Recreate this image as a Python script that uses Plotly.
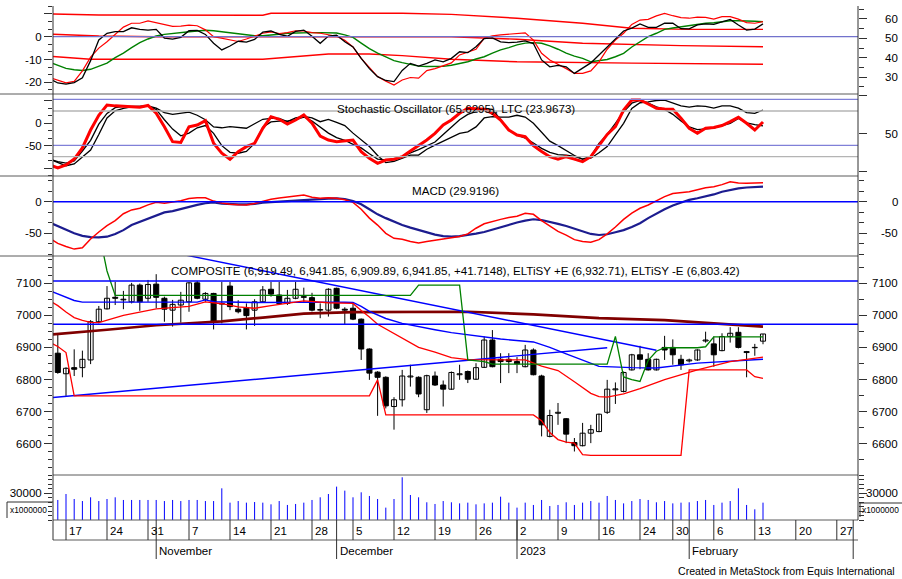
import pandas as pd
import plotly.graph_objects as go

# ======================= DATA =======================
# trading calendar (2023-01-23 closed); index 0 = 2022-10-13
calendar = [d for d in pd.bdate_range("2022-10-13", "2023-03-03") if d != pd.Timestamp("2023-01-23")]
cal_index = {d.strftime("%Y-%m-%d"): k for k, d in enumerate(calendar)}

price_start = "2022-10-14"      # first candle
ind_start = "2022-10-13"        # indicator series start one session earlier

open_ = [6882, 6818, 6837, 6837, 6861, 6980, 7020, 7056, 7048, 7042,
         7094, 7053, 7097, 7053, 7016, 7032, 7042, 7101, 7050, 7068,
         7035, 7091, 7019, 7022, 7016, 7042, 7081, 7063, 7037, 7053,
         7058, 7055, 7016, 7016, 7084, 7019, 7022, 6988, 6895, 6823,
         6807, 6716, 6737, 6808, 6807, 6706, 6811, 6783, 6770, 6815,
         6825, 6801, 6838, 6923, 6863, 6863, 6856, 6840, 6892, 6811,
         6623, 6695, 6678, 6604, 6594, 6633, 6638, 6698, 6768, 6763,
         6830, 6877, 6863, 6830, 6900, 6900, 6863, 6858, 6861, 6920,
         6911, 6890, 6934, 6947, 6887, 6899, 6919.49]
high_ = [6939, 6838, 6894, 6890, 6985, 7029, 7091, 7104, 7076, 7101,
         7099, 7110, 7128, 7058, 7048, 7073, 7103, 7107, 7072, 7070,
         7104, 7104, 7047, 7037, 7050, 7091, 7104, 7104, 7079, 7104,
         7086, 7070, 7037, 7084, 7086, 7025, 7037, 6990, 6897, 6826,
         6810, 6745, 6830, 6846, 6810, 6815, 6825, 6797, 6825, 6846,
         6828, 6851, 6934, 6954, 6882, 6882, 6870, 6908, 6897, 6815,
         6706, 6727, 6680, 6618, 6665, 6659, 6694, 6799, 6791, 6825,
         6880, 6905, 6882, 6865, 6936, 6925, 6877, 6865, 6894, 6949,
         6934, 6944, 6963, 6963, 6889, 6911, 6941.85]
low_ = [6818, 6749, 6811, 6807, 6848, 6975, 7018, 7032, 7019, 7037,
        7014, 7042, 7022, 6980, 6965, 6977, 7011, 7050, 7042, 6956,
        6975, 7016, 7006, 6956, 6967, 7040, 7058, 7032, 7032, 7050,
        7042, 7012, 6991, 6996, 7019, 6970, 6985, 6861, 6799, 6687,
        6710, 6644, 6716, 6778, 6745, 6696, 6780, 6716, 6768, 6799,
        6789, 6799, 6836, 6838, 6789, 6820, 6820, 6838, 6813, 6623,
        6620, 6659, 6602, 6576, 6592, 6602, 6636, 6693, 6724, 6760,
        6828, 6832, 6828, 6828, 6861, 6846, 6830, 6853, 6858, 6915,
        6840, 6888, 6915, 6897, 6807, 6874, 6909.89]
close_ = [6822, 6835, 6832, 6863, 6980, 7019, 7053, 7053, 7050, 7094,
          7042, 7096, 7056, 7019, 7034, 7047, 7101, 7053, 7068, 6980,
          7037, 7027, 7011, 6999, 7042, 7079, 7066, 7037, 7053, 7081,
          7056, 7016, 7018, 7081, 7022, 7016, 6988, 6895, 6820, 6807,
          6718, 6737, 6811, 6811, 6755, 6812, 6783, 6770, 6822, 6818,
          6801, 6837, 6923, 6840, 6856, 6856, 6849, 6892, 6815, 6659,
          6688, 6698, 6630, 6594, 6633, 6644, 6692, 6770, 6771, 6822,
          6877, 6863, 6830, 6863, 6892, 6877, 6846, 6861, 6892, 6923,
          6877, 6934, 6944, 6900, 6884, 6900.14, 6941.85]
volume = [22500, 29200, 23600, 21300, 25500, 21300, 23600, 25500, 22500, 22500,
          22500, 22500, 22500, 21300, 22500, 21300, 22500, 22500, 21300, 21300,
          35600, 19500, 21300, 19500, 20200, 19500, 17600, 21300, 16900, 18000,
          19500, 22500, 25500, 29200, 37500, 33000, 25500, 31100, 27000, 23600,
          13900, 23600, 48000, 28100, 25500, 19900, 18000, 21300, 19900, 18700,
          19500, 17600, 18700, 19500, 26200, 19500, 13900, 19500, 16900, 22500,
          15700, 16900, 19900, 16900, 19500, 21300, 19500, 27000, 22500, 18700,
          21300, 23600, 22500, 19900, 21300, 18700, 19500, 19900, 21300, 22500,
          16900, 19500, 21300, 35600, 16900, 12000, 19500]

# ELTiSY +E / -E (from ind_start)
elt_plus = [None, None, None, None, None, None, 7262, 7138, 7062, 7062,
            7062, 7062, 7062, 7062, 7062, 7062, 7062, 7062, 7062, 7062,
            7062, 7062, 7062, 7062, 7062, 7062, 7062, 7062, 7062, 7062,
            7062, 7062, 7062, 7062, 7062, 7062, 7062, 7062, 7062, 7062,
            7062, 7062, 7062, 7062, 7062, 7094, 7094, 7094, 7094, 7094,
            7094, 6861, 6859, 6856, 6848, 6848, 6848, 6848, 6848, 6848,
            6848, 6848, 6848, 6848, 6848, 6848, 6848, 6848, 6848, 6934,
            6808, 6800, 6794, 6860, 6888, 6899, 6899, 6899, 6899, 6899,
            6902, 6932.71, 6932.71, 6932.71, 6932.71, 6932.71, 6932.71, 6932.71]
elt_minus = [6916, 6903, 6884, 6749, 6749, 6749, 6749, 6749, 6749, 6749,
             6749, 6749, 6749, 6749, 6749, 6749, 6749, 6749, 6749, 6749,
             6749, 6749, 6749, 6749, 6749, 6749, 6749, 6749, 6749, 6749,
             6749, 6749, 6749, 6749, 6749, 6749, 6749, 6749, 6749, 6749,
             6799, 6690, 6690, 6690, 6690, 6690, 6690, 6690, 6690, 6690,
             6690, 6690, 6690, 6690, 6690, 6690, 6690, 6690, 6690, 6690,
             6672, 6635, 6613, 6605, 6602, 6566, 6564, 6564, 6564, 6564,
             6564, 6564, 6564, 6564, 6564, 6564, 6564, 6564, 6830, 6830,
             6830, 6830, 6830, 6830, 6830, 6830, 6809, 6803.42]

# moving averages / curves in price panel: (session offset from price_start, value)
brown_i = [-1, 0, 6, 12, 20, 25, 30, 36, 42, 50, 58, 66, 74, 80, 86]
brown_v = [6940, 6942, 6955, 6969, 6981, 6993, 7005, 7010, 7011, 7011, 7003, 6991, 6985, 6974, 6965]
ma_red_i = [-1, 0, 1, 2, 3, 4, 5, 6, 8, 12, 16, 18, 20, 22, 24, 26, 28, 30, 33, 36,
            37, 38, 39, 41, 44, 46, 48, 50, 53, 57, 59, 61, 63, 65, 66, 67, 69, 71, 74, 78, 82, 86]
ma_red_v = [7045, 7030, 7010, 6993, 6984, 6978, 6977, 6985, 7000, 7020, 7028, 7042, 7036, 7026, 7022, 7030, 7038, 7045, 7039, 7037,
            7015, 6995, 6972, 6944, 6900, 6885, 6868, 6862, 6861, 6861, 6842, 6828, 6793, 6757, 6747, 6745, 6755, 6772, 6800, 6830, 6856, 6870]
blue_curve_i = [-1, 0, 1, 2, 3, 17, 18, 19, 24, 29, 35, 36, 37, 38, 40, 42, 44, 46, 48, 50,
                54, 58, 60, 62, 64, 66, 70, 73, 78, 86]
blue_curve_v = [7077, 7067, 7057, 7046, 7041, 7041, 7048, 7042, 7040, 7041, 7041, 7040, 7028, 7012, 6990, 6975, 6964, 6955, 6946, 6939,
                6926, 6917, 6900, 6880, 6860, 6841, 6837, 6836, 6851, 6863]
trend_down_i = [12, 73]
trend_down_v = [7206, 6891]
trend_up_i = [-1, 67]
trend_up_v = [6743, 6899]
price_levels = [7107, 6972]

# top oscillator panel (from ind_start)
osc_black = [-18.5, -20.3, -20.8, -20.1, -18.0, -10.5, -1.4, 1.5, 2.2, 2.2,
             3.9, 3.2, 2.9, 3.2, -0.6, -1.1, -0.3, 2.6, 2.8, 1.0,
             -2.9, -5.8, -4.1, -2.0, -2.4, -1.2, 2.0, 2.5, 1.0, 0.2,
             2.3, 2.9, 0.2, -2.9, 0.3, 0.7, -2.2, -4.5, -9.5, -14.0,
             -17.5, -19.2, -19.7, -14.8, -11.7, -12.9, -11.7, -10.2, -11.0, -9.5,
             -6.6, -7.0, -4.4, -0.8, -0.5, -2.3, -2.6, -2.4, -1.8, -3.0,
             -10.2, -13.2, -12.6, -13.2, -16.1, -13.9, -11.5, -8.0, -4.4, -0.7,
             2.5, 3.8, 5.6, 4.1, 4.1, 5.9, 5.9, 3.5, 3.4, 5.2,
             5.6, 5.4, 6.6, 7.6, 5.1, 2.9, 3.3, 5.6]
osc_red = [-17.9, -19.0, -20.2, -19.6, -15.0, -9.0, -5.0, -2.2, 1.2, 4.2,
           5.9, 5.9, 6.9, 6.2, 5.3, 4.5, 4.6, 5.1, 4.8, 3.0,
           0.0, -0.6, -1.3, -2.1, -1.0, 0.2, 1.5, 2.1, 1.4, 1.8,
           2.6, 2.5, 1.8, 1.5, 1.0, 0.2, -1.6, -4.5, -9.5, -13.5,
           -17.5, -19.5, -21.2, -19.0, -17.9, -18.2, -14.9, -14.0, -12.9, -11.5,
           -8.0, -6.6, -5.5, -0.6, 0.4, 0.8, 1.2, 1.3, 1.7, -1.5,
           -7.3, -10.2, -12.0, -14.0, -16.1, -16.1, -15.0, -11.0, -5.5, -1.5,
           1.5, 5.4, 7.3, 7.6, 9.1, 10.2, 9.2, 8.4, 8.1, 8.6,
           8.5, 7.7, 8.8, 8.8, 7.7, 6.2, 5.9, 6.6]
osc_green = [-11.2, -12.5, -13.9, -14.5, -14.8, -14.3, -13.1, -11.6, -9.2, -7.2,
             -4.8, -2.6, -1.0, 0.3, 1.0, 1.5, 1.9, 2.2, 2.5, 2.8,
             2.6, 2.1, 1.6, 1.1, 0.7, 0.4, 0.4, 0.6, 1.1, 1.5,
             1.7, 1.8, 1.8, 1.8, 1.8, 1.6, 0.8, -0.3, -2.8, -5.2,
             -7.2, -9.0, -10.5, -11.4, -12.2, -12.9, -13.1, -13.2, -13.0, -12.5,
             -11.9, -11.0, -9.8, -8.8, -7.2, -5.8, -4.8, -3.6, -2.8, -2.6,
             -2.9, -4.0, -5.5, -7.2, -8.5, -9.5, -11.0, -10.6, -10.0, -8.8,
             -7.3, -4.5, -2.2, 0.0, 1.5, 3.2, 3.8, 4.4, 5.0, 5.6,
             5.9, 6.1, 6.5, 7.0, 7.0, 7.0, 6.8, 6.6]
band_up_i = [-1, 5, 25, 26, 42, 48, 56, 64, 70, 77, 86]
band_up_v = [10.0, 9.5, 9.4, 10.3, 10.3, 9.8, 8.1, 5.9, 3.7, 3.2, 3.2]
band_mid_i = [-1, 5, 12, 48, 56, 64, 76, 86]
band_mid_v = [1.1, 0.3, 0.0, 0.0, -1.1, -2.9, -3.9, -4.4]
band_lo_i = [-1, 4, 25, 30, 33, 38, 42, 48, 56, 70, 86]
band_lo_v = [-8.6, -9.9, -9.9, -8.5, -7.6, -7.6, -8.3, -9.9, -11.0, -11.6, -12.1]

# stochastic panel (from ind_start)
stoch_k = [-93, -100, -93, -80, -55, -15, 18, 41, 39, 38.7,
           37, 36, 40, 22.4, -7.6, -41, -43, -7.6, -3.8, 5.8,
           -44.7, -67, -80.5, -63.5, -52.3, -44.7, -11.2, 14.8, 8.9, -1.6,
           7.4, 18.6, 0, -28.4, -37.4, -41.2, -40, -37.4, -63.5, -78.3,
           -89.5, -82.1, -80.5, -74.7, -62, -50, -37.4, -22.4, -3.8, 7.4,
           22.4, 33.6, 32.5, 31.3, 22.4, 7.4, -15, -26.2, -30, -50,
           -63, -74.7, -80.5, -74.7, -80, -85.9, -74.7, -50, -25, -7.6,
           29.8, 52.1, 52.1, 43.2, 33.6, 32, 31.3, 11.2, -11.2, -22.4,
           -11.2, -9.4, -5, 3.6, 13.4, 0, -15, 3.0]
stoch_a = [-80, -86, -89, -84, -62, -38, -2, 22, 35, 38,
           38, 37, 38.7, 31, 8, -13, -28, -22, -10, -5,
           -22.4, -50, -65, -67, -63, -45, -9, 3, 5, 5,
           8, 14, 5, -8, -22, -32, -38, -47, -55, -68,
           -80, -82, -81, -75, -66, -59, -50, -42, -25, -8,
           8, 20, 26, 33, 31, 8, -15, -26, -33, -44,
           -56, -65, -70, -71, -74, -80, -74, -45, -25, 0,
           26, 45, 51, 45, 37, 31, 20, 5, -8, -14,
           -13, -11, -5, 0, 11, 1, -3, -6]
stoch_b = [-80, -88, -95, -91, -75, -60, -25, 12, 28, 33.6,
           37, 38, 38.7, 34, 24, 20, 22, 25, 18, 8,
           -8, -10, -7.6, -9, -11, -1, 9, 11, 11, 4,
           12, 15.5, 12, 3.6, 8.9, 2, -5, -22, -36, -52,
           -72, -88, -85, -78, -71, -71, -58, -49, -40, -30,
           -22.4, -19, -8, 12, 15, 14, 14, 18, 14, 0,
           -20, -40, -50, -62, -72, -80, -78, -66, -52, -26,
           0, 33, 46, 48, 51, 52, 45, 39, 36, 39,
           38, 34, 39, 39, 34, 24, 22.4, 29.8]
stoch_blue_levels = [53.7, -49.2]
stoch_gray_levels = [27.5, -74.7]

# MACD panel (from ind_start)
macd_line = [-58, -66, -71, -75, -73, -59, -48, -38, -30, -19,
             -13, -10.4, -5, -1, -2.5, -1, 1.5, 5, 6.3, 6.3,
             1, -2, -4, -4.8, -5.2, -3, 1, 4, 6, 7.5,
             9.5, 10.6, 7, 5.5, 6.3, 5.5, 3, -1, -12, -26,
             -37, -50, -58, -59.5, -63, -65.5, -63, -61, -60, -58,
             -55, -51, -42, -35, -31, -28, -25, -23, -18.4, -20,
             -30, -38, -47, -53, -60, -63, -64, -60, -51, -40,
             -28, -18, -10.4, -5.2, 2, 8, 13, 14.5, 15.8, 19,
             22, 23.7, 27, 31.6, 29.5, 29, 29, 29.9]
macd_signal = [-33, -39, -44, -50, -54, -56, -56.3, -55.4, -51, -45,
               -37, -32, -26, -21, -17, -15, -11.5, -8, -5, -2.5,
               -1, -3, -4.1, -4.1, -4.1, -3.5, -1.5, -0.5, 0, 0.7,
               1.5, 2.4, 3.2, 4.3, 5, 5.2, 4.3, 1, -4, -12,
               -20, -26, -32, -37, -41, -45, -48.4, -52, -54.5, -55.4,
               -54.5, -53, -50.5, -48, -44, -40, -36.5, -33, -30, -27.8,
               -29, -31.6, -35, -38.5, -42.5, -47, -51, -52.7, -51.5, -48.4,
               -45, -40, -34, -26, -18.4, -12, -6, -1, 3, 5.4,
               8, 11.5, 15.8, 19, 21, 22.5, 23.2, 23.7]

# axis tick labels
p1_left_ticks, p1_left_text = [-20, -10, 0, 10], ["-20", "-10", "0", ""]
p1_right_ticks, p1_right_text = [30, 40, 50, 60], ["30", "40", "50", "60"]
p2_left_ticks, p2_left_text = [-100, -50, 0, 50], ["", "-50", "0", ""]
p2_right_ticks, p2_right_text = [0, 50, 100], ["", "50", ""]
p3_ticks, p3_text = [-50, 0], ["-50", "0"]
p4_ticks = [6600, 6700, 6800, 6900, 7000, 7100]
p4_text = ["6600", "6700", "6800", "6900", "7000", "7100"]
p5_ticks, p5_text = [30000], ["30000"]

week_tick_dates = ["2022-10-17", "2022-10-24", "2022-10-31", "2022-11-07", "2022-11-14", "2022-11-21",
                   "2022-11-28", "2022-12-05", "2022-12-12", "2022-12-19", "2022-12-26", "2023-01-02",
                   "2023-01-09", "2023-01-16", "2023-01-24", "2023-01-30", "2023-02-06", "2023-02-13",
                   "2023-02-20", "2023-02-27"]
week_tick_labels = ["17", "24", "31", "7", "14", "21", "28", "5", "12", "19", "26", "2",
                    "9", "16", "24", "30", "6", "13", "20", "27"]
month_tick_dates = ["2022-11-01", "2022-12-01", "2023-01-02", "2023-02-01", "2023-03-01"]
month_tick_labels = ["November", "December", "2023", "February", ""]

title_stoch = "Stochastic Oscillator (65.6295), LTC (23.9673)"
title_macd = "MACD (29.9196)"
title_price = ("COMPOSITE (6,919.49, 6,941.85, 6,909.89, 6,941.85, +41.7148), "
               "ELTiSY +E (6,932.71), ELTiSY -E (6,803.42)")
footer = "Created in MetaStock from Equis International"
vol_unit = "x1000000"

# ======================= LAYOUT CONSTANTS =======================
W, H = 902, 579
PX_L, PX_R = 53, 858
X_RANGE = [(PX_L - 49.6) / 8.2, (PX_R - 49.6) / 8.2]
PAN = {1: (6, 94), 2: (94, 176), 3: (176, 256), 4: (256, 475), 5: (475, 520)}
R1L = [-25.13, 13.46]
R1R = [21.36, 66.6]
R2L = [-117.9, 65.55]
R2R = [-5.3, 102.3]
R3 = [-85.92, 40.66]
R4 = [6502.8, 7184.6]
R5 = [0, 50562]

FONT = dict(family="Liberation Sans, Arial, sans-serif", size=11.5, color="#000000")
AXC = "#303030"
SEPC = "#5a5a5a"


def px_x(px):
    return px / W


def px_y(py):
    return 1 - py / H


def ydom(p):
    t, b = PAN[p]
    return [px_y(b), px_y(t)]


k_price0 = cal_index[price_start]
k_ind0 = cal_index[ind_start]
xb = [k_price0 + i for i in range(len(close_))]
xi = [k_ind0 + j for j in range(len(osc_black))]


def kx(offsets):
    return [k_price0 + i for i in offsets]


traces = []


def line(xs, ys, yaxis, color, width):
    traces.append(go.Scatter(x=xs, y=ys, mode="lines", xaxis="x", yaxis=yaxis,
                             line=dict(color=color, width=width), hoverinfo="skip",
                             showlegend=False, connectgaps=False))


# ---- panel 1 ----
line(kx(band_up_i), band_up_v, "y", "#ff0000", 1.4)
line(kx(band_mid_i), band_mid_v, "y", "#ff0000", 1.4)
line(kx(band_lo_i), band_lo_v, "y", "#ff0000", 1.4)
line(xi, osc_green, "y", "#008000", 1.4)
line(xi, osc_red, "y", "#ff0000", 1.2)
line(xi, osc_black, "y", "#000000", 1.3)

# ---- panel 2 ----
line(xi, stoch_b, "y2", "#000000", 1.3)
line(xi, stoch_a, "y2", "#000000", 1.3)
line(xi, stoch_k, "y2", "#ff0000", 3.0)

# ---- panel 3 ----
line(xi, macd_signal, "y3", "#1c1c8f", 2.2)
line(xi, macd_line, "y3", "#ff0000", 1.5)

# ---- panel 4: candles ----
wx, wy = [], []
for k, h, l in zip(xb, high_, low_):
    wx += [k, k, None]
    wy += [l, h, None]
traces.append(go.Scatter(x=wx, y=wy, mode="lines", xaxis="x", yaxis="y4",
                         line=dict(color="#000000", width=1), hoverinfo="skip", showlegend=False))
for up in (True, False):
    bx, bbase, bh = [], [], []
    for k, o, c in zip(xb, open_, close_):
        if (c >= o) == up:
            bx.append(k)
            bbase.append(min(o, c))
            bh.append(max(abs(c - o), 0.8))
    traces.append(go.Bar(x=bx, y=bh, base=bbase, width=0.62, xaxis="x", yaxis="y4",
                         marker=dict(color="#ffffff" if up else "#000000",
                                     line=dict(color="#000000", width=1)),
                         hoverinfo="skip", showlegend=False))

line(kx(brown_i), brown_v, "y4", "#800000", 2.7)
line(kx(trend_up_i), trend_up_v, "y4", "#0000ff", 1.4)
line(kx(trend_down_i), trend_down_v, "y4", "#0000ff", 1.4)
line(kx(blue_curve_i), blue_curve_v, "y4", "#0000ff", 1.4)
line(kx(ma_red_i), ma_red_v, "y4", "#ff0000", 1.3)
line(xi, elt_minus, "y4", "#ff0000", 1.3)
line(xi, elt_plus, "y4", "#008000", 1.3)

# ---- panel 5: volume ----
vx, vy = [], []
for k, v in zip(xb, volume):
    vx += [k, k, None]
    vy += [0, v, None]
traces.append(go.Scatter(x=vx, y=vy, mode="lines", xaxis="x", yaxis="y5",
                         line=dict(color="#0000ff", width=1), hoverinfo="skip", showlegend=False))

# dummy traces so the right-hand axes exist
for ax, rng in (("y6", R1R), ("y7", R2R), ("y8", R3), ("y9", R4), ("y10", R5)):
    traces.append(go.Scatter(x=[-5], y=[sum(rng) / 2], mode="markers", xaxis="x", yaxis=ax,
                             marker=dict(opacity=0), hoverinfo="skip", showlegend=False))

fig = go.Figure(traces)


def left_axis(p, rng, tv, tt, minor_tick0, minor_dtick):
    d = dict(domain=ydom(p), range=rng, anchor="x", side="left", tickmode="array",
             tickvals=tv, ticktext=tt, ticks="outside", ticklen=8, tickwidth=1, tickcolor=AXC,
             tickfont=FONT, showgrid=False, zeroline=False, showline=False, fixedrange=True)
    if minor_dtick:
        d["minor"] = dict(ticks="outside", ticklen=4, tickwidth=1, tickcolor=AXC,
                          tickmode="linear", tick0=minor_tick0, dtick=minor_dtick, showgrid=False)
    return d


def right_axis(over, rng, tv, minor_tick0, minor_dtick):
    d = dict(overlaying=over, range=rng, anchor="x", side="right", tickmode="array",
             tickvals=tv, showticklabels=False, ticks="outside", ticklen=8, tickwidth=1,
             tickcolor=AXC, showgrid=False, zeroline=False, showline=False, fixedrange=True)
    if minor_dtick:
        d["minor"] = dict(ticks="outside", ticklen=5, tickwidth=1, tickcolor=AXC,
                          tickmode="linear", tick0=minor_tick0, dtick=minor_dtick, showgrid=False)
    return d


shapes = []


def seg(x0, y0, x1, y1, color=SEPC, width=1, xref="paper", yref="paper"):
    shapes.append(dict(type="line", x0=x0, y0=y0, x1=x1, y1=y1, xref=xref, yref=yref,
                       line=dict(color=color, width=width), layer="above"))


# panel horizontal reference lines
seg(px_x(PX_L), 0, px_x(PX_R), 0, "#7272cc", 1.3, yref="y")
for v in stoch_blue_levels:
    seg(px_x(PX_L), v, px_x(PX_R), v, "#8080d8", 1.3, yref="y2")
for v in stoch_gray_levels:
    seg(px_x(PX_L), v, px_x(PX_R), v, "#b4b4b4", 1.3, yref="y2")
seg(px_x(PX_L), 0, px_x(PX_R), 0, "#0000ff", 1.5, yref="y3")
for v in price_levels:
    seg(px_x(PX_L), v, px_x(PX_R), v, "#0000ff", 1.4, yref="y4")

# frame / separators
for py in (94, 176, 256):
    seg(0, px_y(py), px_x(PX_R), px_y(py))
for py in (475, 520, 540):
    seg(px_x(PX_L), px_y(py), px_x(PX_R), px_y(py))
seg(px_x(PX_L), px_y(6), px_x(PX_L), px_y(540), AXC)
seg(px_x(PX_R), px_y(6), px_x(PX_R), px_y(520), AXC)

annotations = []

# date ticks
for d, lab in zip(week_tick_dates, week_tick_labels):
    k = cal_index[d]
    seg(k, px_y(520), k, px_y(540), AXC, 1, xref="x")
    annotations.append(dict(x=k, xref="x", xanchor="left", xshift=1, y=px_y(531), yref="paper",
                            yanchor="middle", text=lab, showarrow=False, font=FONT))
for d, lab in zip(month_tick_dates, month_tick_labels):
    k = cal_index[d]
    seg(k, px_y(520), k, px_y(559), AXC, 1, xref="x")
    if lab:
        annotations.append(dict(x=k, xref="x", xanchor="left", xshift=1, y=px_y(551), yref="paper",
                                yanchor="middle", text=lab, showarrow=False, font=FONT))

# right axis labels
for ax, tv, tt in (("y6", p1_right_ticks, p1_right_text), ("y7", p2_right_ticks, p2_right_text),
                   ("y8", p3_ticks, p3_text), ("y9", p4_ticks, p4_text), ("y10", p5_ticks, p5_text)):
    for v, t in zip(tv, tt):
        if t:
            annotations.append(dict(x=px_x(900), xref="paper", xanchor="right", y=v, yref=ax,
                                    yanchor="middle", text=t, showarrow=False, font=FONT))

# titles
for txt, py in ((title_stoch, 108), (title_macd, 190), (title_price, 270)):
    annotations.append(dict(x=px_x((PX_L + PX_R) / 2), xref="paper", xanchor="center",
                            y=px_y(py), yref="paper", yanchor="middle", text=txt,
                            showarrow=False, font=dict(FONT, size=11.6)))
annotations.append(dict(x=px_x(897), xref="paper", xanchor="right", y=px_y(571), yref="paper",
                        yanchor="middle", text=footer, showarrow=False, font=dict(FONT, size=10.6)))

# volume unit boxes
annotations.append(dict(x=px_x(28), xref="paper", xanchor="center", y=px_y(510.5), yref="paper",
                        yanchor="middle", text=vol_unit, showarrow=False, font=dict(FONT, size=8.4)))
annotations.append(dict(x=px_x(880.5), xref="paper", xanchor="center", y=px_y(510), yref="paper",
                        yanchor="middle", text=vol_unit, showarrow=False, font=dict(FONT, size=8.4)))
seg(px_x(7), px_y(502), px_x(PX_L), px_y(502), AXC)
seg(px_x(7), px_y(502), px_x(7), px_y(518), AXC)
seg(px_x(859), px_y(503), px_x(902), px_y(503), AXC)
seg(px_x(860), px_y(503), px_x(860), px_y(517), AXC)

fig.update_layout(
    width=W, height=H, margin=dict(l=0, r=0, t=0, b=0),
    paper_bgcolor="#ffffff", plot_bgcolor="#ffffff", showlegend=False, barmode="overlay",
    xaxis=dict(domain=[px_x(PX_L), px_x(PX_R)], range=X_RANGE, anchor="y5", showgrid=False,
               zeroline=False, showticklabels=False, ticks="", showline=False, fixedrange=True),
    yaxis=left_axis(1, R1L, p1_left_ticks, p1_left_text, 0, 10 / 3),
    yaxis2=left_axis(2, R2L, p2_left_ticks, p2_left_text, 0, 50 / 3),
    yaxis3=left_axis(3, R3, p3_ticks, p3_text, 0, 50 / 3),
    yaxis4=left_axis(4, R4, p4_ticks, p4_text, 7000, 25),
    yaxis5=left_axis(5, R5, p5_ticks, p5_text, 0, 5000),
    yaxis6=right_axis("y", R1R, p1_right_ticks, 50, 5),
    yaxis7=right_axis("y2", R2R, p2_right_ticks, 0, None),
    yaxis8=right_axis("y3", R3, p3_ticks, 0, 50 / 3),
    yaxis9=right_axis("y4", R4, p4_ticks, 7000, 50),
    yaxis10=right_axis("y5", R5, p5_ticks, 0, 5000),
    shapes=shapes, annotations=annotations,
)

fig.write_html("out.html")
